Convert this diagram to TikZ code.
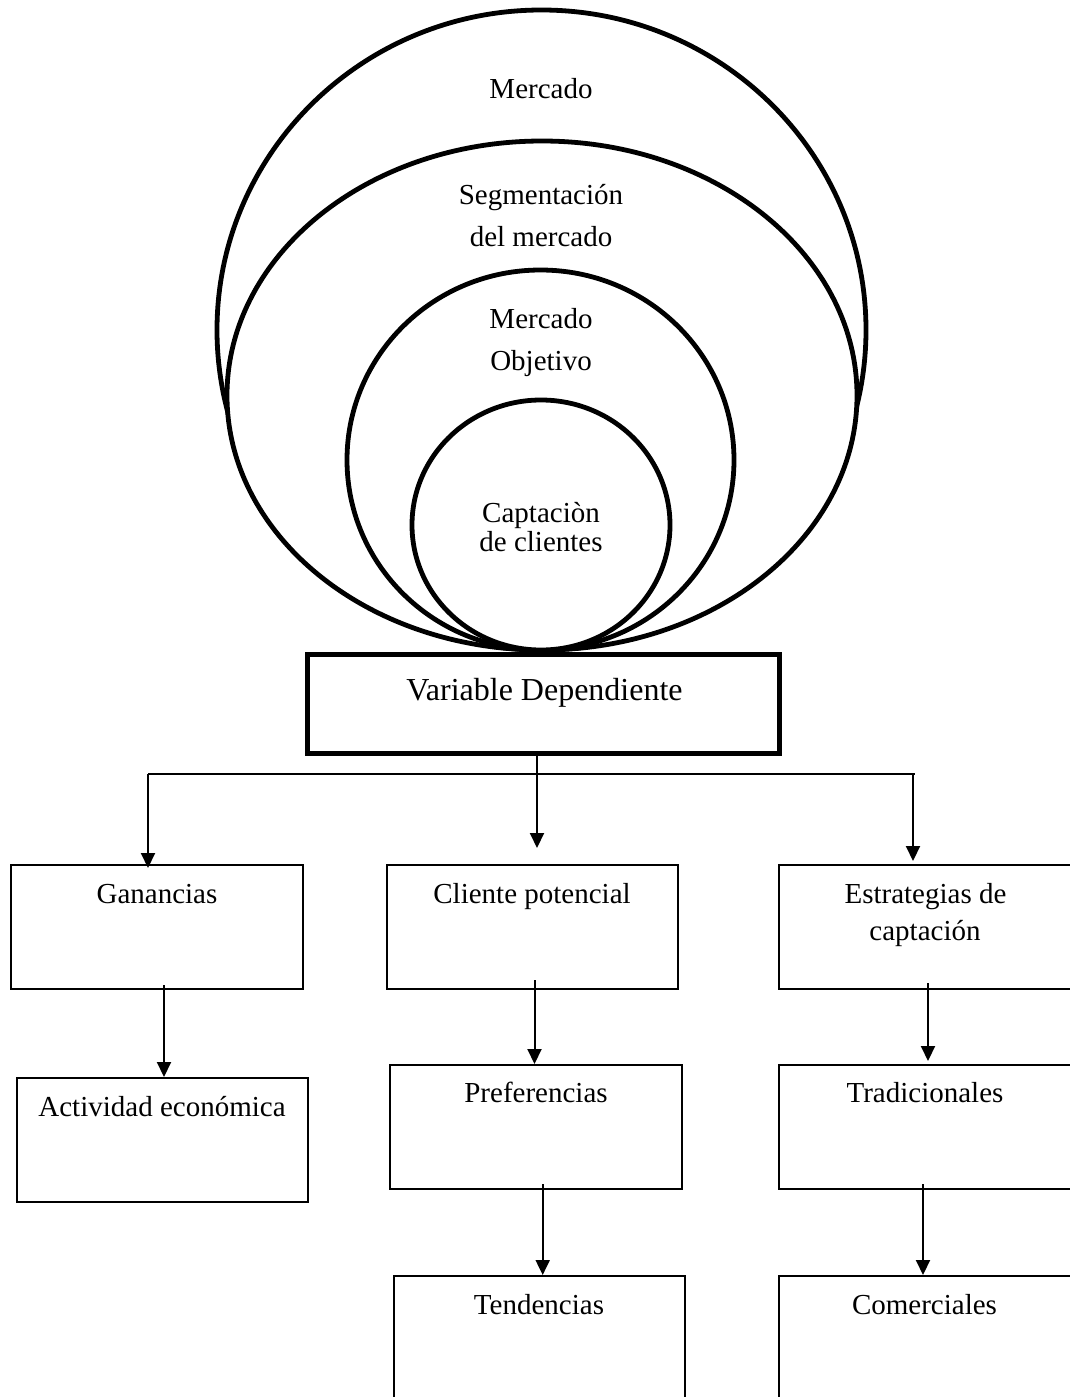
\documentclass[tikz,border=0pt]{standalone}
\usepackage{fontspec}
\setmainfont{Liberation Serif}
\usetikzlibrary{shapes.geometric,arrows.meta,calc}
\begin{document}
\begin{tikzpicture}[x=1pt,y=-1pt,
  ring/.style={draw,fill=white,ellipse,line width=4.8pt,inner sep=0pt},
  lbl/.style={font=\fontsize{29}{36}\selectfont,inner sep=0pt,anchor=base},
  box/.style={draw,rectangle,line width=2pt,inner sep=0pt,minimum height=124pt},
  link/.style={line width=2pt},
  arr/.style={line width=2pt,-{Triangle[length=15pt,width=14pt]}}]
\clip (0,0) rectangle (1070,1397);
\fill[white] (0,0) rectangle (1070,1397);

% nested white-filled ellipses, drawn outermost first, all touching at the bottom
\node[ring,minimum width=649pt,minimum height=640pt] (e1) at (541.5,330) {};
\node[ring,minimum width=630pt,minimum height=509pt] (e2) at (542,395.5) {};
\node[ring,minimum width=387pt,minimum height=380pt] (e3) at (540.5,460) {};
\node[ring,minimum width=258pt,minimum height=250pt] (e4) at (541,525) {};

\node[lbl] (t1) at (541,98) {Mercado};
\node[lbl] (t2a) at (541,204) {Segmentación};
\node[lbl] (t2b) at (541,246) {del mercado};
\node[lbl] (t3a) at (541,328) {Mercado};
\node[lbl] (t3b) at (541,370.5) {Objetivo};
\node[lbl] (t4a) at (541,522) {Captaciòn};
\node[lbl] (t4b) at (541,551) {de clientes};

% main box
\node[draw,fill=white,line width=5pt,inner sep=0pt,minimum width=472pt,minimum height=99pt] (vd) at (543.5,704) {};
\node[lbl,font=\fontsize{32}{38}\selectfont] (vdt) at (544.5,700.5) {Variable Dependiente};

% first row
\node[box,minimum width=292pt] (gan) at (157,927) {};
\node[box,minimum width=290.5pt] (cli) at (532.25,927) {};
\node[box,minimum width=293pt] (est) at (925.5,927) {};
\node[lbl] (gant) at (157,903) {Ganancias};
\node[lbl] (clit) at (532,903) {Cliente potencial};
\node[lbl] (estta) at (925.5,903) {Estrategias de};
\node[lbl] (esttb) at (925,940) {captación};

% second row
\node[box,minimum width=291.3pt] (act) at (162.35,1140) {};
\node[box,minimum width=291.6pt] (pre) at (535.8,1127) {};
\node[box,minimum width=293pt] (tra) at (925.5,1127) {};
\node[lbl] (actt) at (162,1116) {Actividad económica};
\node[lbl] (pret) at (536,1102.5) {Preferencias};
\node[lbl] (trat) at (925,1102.5) {Tradicionales};

% third row
\node[box,minimum width=291.5pt,minimum height=140pt] (ten) at (539.25,1346) {};
\node[box,minimum width=293pt,minimum height=140pt] (com) at (925.5,1346) {};
\node[lbl] (tent) at (539,1314) {Tendencias};
\node[lbl] (comt) at (924.5,1314) {Comerciales};

% branching connectors
\coordinate (hl) at (148,774);
\coordinate (hr) at (915,774);
\coordinate (jr) at (913,774);
\coordinate (jm) at (537,848);
\draw[link] (hl) -- (hr);
\draw[arr] (vd.south -| jm) -- (jm);
\draw[arr] (hl) -- ($(hl |- gan.north)+(0,4)$);
\draw[arr] (jr) -- ($(jr |- est.north)+(0,-3)$);

\coordinate (a1) at (164,985);
\coordinate (a2) at (534.5,980);
\coordinate (a3) at (928,983);
\draw[arr] (a1) -- (a1 |- act.north);
\draw[arr] (a2) -- (a2 |- pre.north);
\draw[arr] (a3) -- ($(a3 |- tra.north)+(0,-3)$);

\coordinate (b2) at (542.7,1184);
\coordinate (b3) at (923,1184);
\draw[arr] (b2) -- (b2 |- ten.north);
\draw[arr] (b3) -- (b3 |- com.north);
\end{tikzpicture}
\end{document}
